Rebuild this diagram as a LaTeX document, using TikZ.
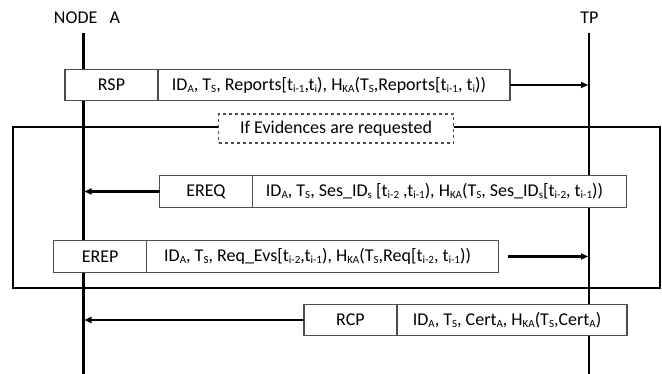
\documentclass[tikz,border=0pt]{standalone}
\usepackage{fontspec}
\setmainfont{Carlito}
\usetikzlibrary{arrows.meta, positioning}

\newcommand{\sbs}[1]{\raisebox{-0.12em}{\fontsize{11}{11}\selectfont #1}}

\begin{document}
\begin{tikzpicture}[x=1pt, y=-1pt, >={Latex[length=8pt, width=7pt]},
	font=\fontsize{18}{20}\selectfont,
	lbl/.style={draw=black!70, fill=white, line width=1.1pt, outer sep=0pt, inner sep=0pt, minimum width=93pt, minimum height=31.5pt},
	msg/.style={draw=black!70, fill=white, line width=1.1pt, outer sep=0pt, inner sep=0pt, minimum height=31.5pt, minimum width=#1, execute at end node={\hspace{10pt}}},
	life/.style={line width=2.2pt},
	sig/.style={->, line width=2.5pt}]

		\useasboundingbox (0,0) rectangle (662,374);

		% Entidades
		\node[anchor=base] (nodea) at (87,24) {NODE\ \ \ A};
		\node[anchor=base] (tp) at (589.5,24) {TP};

		\coordinate (atop) at (83.5,33);
		\coordinate (abot) at (83.5,374);
		\coordinate (tptop) at (589,33);
		\coordinate (tpbot) at (589,374);

		\draw[life] (atop) -- (abot);
		\draw[life] (tptop) -- (tpbot);

		% Bloque condicional
		\coordinate (fnw) at (12.7,127);
		\coordinate (fse) at (660,288);
		\draw[line width=2.4pt] (fnw) rectangle (fse);
		\node[draw=black!70, dashed, fill=white, line width=1.1pt, minimum width=235pt, minimum height=29pt] (cond) at (336,128.5) {If Evidences are requested};

		% Mensajes
		\node[lbl, anchor=west] (rsp) at (65,85) {RSP};
		\node[msg=352pt, right=0pt of rsp] (rspmsg) {ID\sbs{A}, T\sbs{S}, Reports[t\sbs{i-1},t\sbs{i}), H\sbs{KA}(T\sbs{S},Reports[t\sbs{i-1}, t\sbs{i}))};

		\node[lbl, anchor=west] (ereq) at (159.5,191.5) {EREQ};
		\node[msg=374pt, right=0pt of ereq] (ereqmsg) {ID\sbs{A}, T\sbs{S}, Ses\_ID\sbs{s} [t\sbs{i-2} ,t\sbs{i-1}), H\sbs{KA}(T\sbs{S}, Ses\_ID\sbs{s}[t\sbs{i-2}, t\sbs{i-1}))};

		\node[lbl, anchor=west] (erep) at (53.6,256.5) {EREP};
		\node[msg=352pt, right=0pt of erep] (erepmsg) {ID\sbs{A}, T\sbs{S}, Req\_Evs[t\sbs{i-2},t\sbs{i-1}), H\sbs{KA}(T\sbs{S},Req[t\sbs{i-2}, t\sbs{i-1}))};

		\node[lbl, anchor=west] (rcp) at (304,320) {RCP};
		\node[msg=230pt, right=0pt of rcp] (rcpmsg) {ID\sbs{A}, T\sbs{S}, Cert\sbs{A}, H\sbs{KA}(T\sbs{S},Cert\sbs{A})};

		% Flechas
		\draw[sig] (rspmsg.east) -- (rspmsg.east -| tpbot);
		\draw[sig] (ereq.west) -- (ereq.west -| abot);
		\draw[sig] ([xshift=9pt]erepmsg.east) -- (erepmsg.east -| tpbot);
		\draw[sig] (rcp.west) -- (rcp.west -| abot);
	\end{tikzpicture}
\end{document}
